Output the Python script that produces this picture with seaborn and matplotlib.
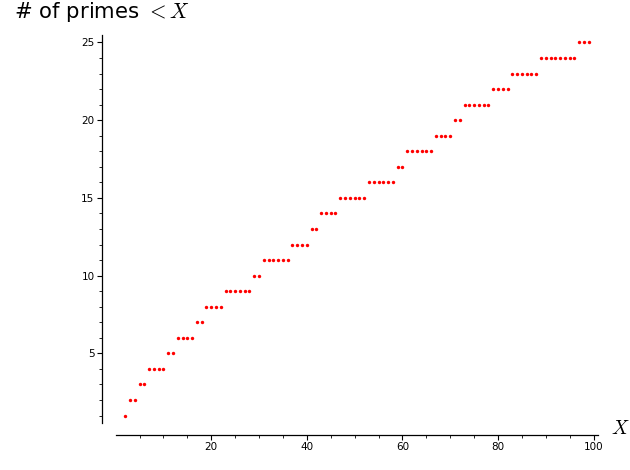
import matplotlib
matplotlib.use("Agg")
import matplotlib.pyplot as plt
import seaborn as sns
import pandas as pd
from matplotlib.ticker import MultipleLocator

X = list(range(2, 100))
prime_count = (
    [1] + [2] * 2 + [3] * 2 + [4] * 4 + [5] * 2 + [6] * 4 + [7] * 2 + [8] * 4
    + [9] * 6 + [10] * 2 + [11] * 6 + [12] * 4 + [13] * 2 + [14] * 4
    + [15] * 6 + [16] * 6 + [17] * 2 + [18] * 6 + [19] * 4 + [20] * 2
    + [21] * 6 + [22] * 4 + [23] * 6 + [24] * 8 + [25] * 3
)
ylabel_text = "# of primes $<X$"
xlabel_text = "$X$"

df = pd.DataFrame({"X": X, "count": prime_count})

sns.set_style("ticks")
plt.rcParams["mathtext.fontset"] = "cm"
plt.rcParams["font.family"] = ["DejaVu Sans"]
plt.rcParams["text.color"] = "black"

PX = 72 / 100  # points per pixel at dpi 100

fig = plt.figure(figsize=(6.3, 4.7), dpi=100)
ax = fig.add_axes([116 / 630, 1 - 423 / 470, (598 - 116) / 630, (423 - 35) / 470])

sns.scatterplot(data=df, x="X", y="count", ax=ax, color="#ff0000", s=6,
                linewidth=0, legend=False)

ax.set_xlim(0.06, 100.94)
ax.set_ylim(0.52, 25.48)
ax.set_xlabel("")
ax.set_ylabel("")

ax.xaxis.set_major_locator(MultipleLocator(20))
ax.xaxis.set_minor_locator(MultipleLocator(5))
ax.yaxis.set_major_locator(MultipleLocator(5))
ax.yaxis.set_minor_locator(MultipleLocator(1))

for s in ["top", "right"]:
    ax.spines[s].set_visible(False)
ax.spines["left"].set_position(("outward", 14 * PX))
ax.spines["bottom"].set_position(("outward", 12 * PX))
for s in ["left", "bottom"]:
    ax.spines[s].set_color("black")
    ax.spines[s].set_linewidth(0.9)

ax.tick_params(axis="both", which="major", direction="out", length=4.7 * PX,
               width=0.8, labelsize=7.5, color="black", labelcolor="black", pad=2)
ax.tick_params(axis="both", which="minor", direction="out", length=3 * PX,
               width=0.6, color="black")

fig.text(102 / 630, 1 - 18 / 470, ylabel_text, ha="center", va="baseline",
         fontsize=15.3, color="black")
fig.text(611 / 630, 1 - 429 / 470, xlabel_text, ha="left", va="center",
         fontsize=14, color="black")

fig.savefig("out.png", dpi=100)
